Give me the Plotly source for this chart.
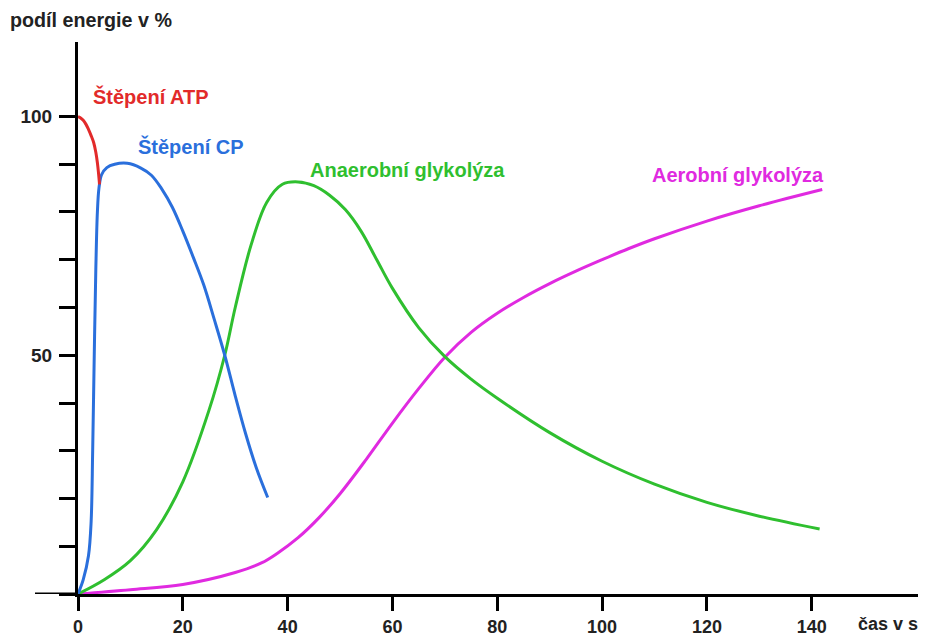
import plotly.graph_objects as go

atp_x = [0, 0.5, 1, 1.5, 2, 2.5, 3, 3.4, 3.7, 3.9, 4.05, 4.1]
atp_y = [100, 99.7, 99.2, 98.4, 97.3, 96, 94.5, 92.5, 90.3, 88.3, 86.5, 85.8]

cp_x = [0, 1, 2, 2.5, 2.8, 3.1, 3.4, 3.7, 4, 4.5, 5.5, 7, 9.4, 12, 14, 16, 18, 20, 22, 24, 26, 28, 30, 32, 34, 36.2]
cp_y = [0, 3, 8, 15, 30, 50, 68, 80, 85, 87.8, 89.3, 90, 90.2, 89.2, 87.7, 84.8, 81, 76, 70.5, 64.7, 57.5, 50, 41.5, 33.5, 26.5, 20.2]

green_x = [0, 5, 10, 15, 20, 25, 28, 30, 33, 36, 39, 42, 45, 48, 51, 54, 57, 60, 65, 70, 75, 80, 90, 100, 110, 120, 130, 141.5]
green_y = [0, 3, 7, 13.5, 23.5, 38.5, 50, 60, 73, 82, 85.8, 86.3, 85.5, 83.5, 80.5, 76, 70, 64, 55.8, 49.7, 45, 41, 33.8, 27.8, 23, 19.2, 16.3, 13.6]

aer_x = [0, 10, 20, 30, 35, 38, 42, 46, 50, 55, 60, 65, 70, 75, 80, 85, 90, 95, 100, 105, 110, 120, 130, 142]
aer_y = [0, 0.9, 2, 4.5, 6.5, 8.5, 11.8, 16, 21, 28.2, 35.8, 43, 49.6, 54.8, 58.8, 62.1, 65, 67.6, 70, 72.3, 74.4, 78.1, 81.3, 84.7]

x_ticks = [0, 20, 40, 60, 80, 100, 120, 140]
y_ticks = [0, 10, 20, 30, 40, 50, 60, 70, 80, 90, 100]
y_labels = ["", "", "", "", "", "50", "", "", "", "", "100"]

RED = "#e22a2a"
BLUE = "#2a6fdc"
GREEN = "#2fbf2f"
MAG = "#e02ae0"
TXT = "#222222"
FONT = "Liberation Sans, Arial, sans-serif"

fig = go.Figure()
for xs, ys, c in [(aer_x, aer_y, MAG), (green_x, green_y, GREEN), (cp_x, cp_y, BLUE), (atp_x, atp_y, RED)]:
    fig.add_trace(go.Scatter(x=xs, y=ys, mode="lines",
                             line=dict(color=c, width=3, shape="spline", smoothing=1),
                             showlegend=False, hoverinfo="skip"))

labels = [
    ("Štěpení ATP", 2.77, 104.2, RED),
    ("Štěpení CP", 11.4, 93.75, BLUE),
    ("Anaerobní glykolýza", 44.2, 88.75, GREEN),
    ("Aerobní glykolýza", 109.5, 87.7, MAG),
]
for t, x, y, c in labels:
    fig.add_annotation(x=x, y=y, text="<b>" + t + "</b>", showarrow=False,
                       xanchor="left", yanchor="middle", xshift=-2,
                       font=dict(family=FONT, size=20, color=c))

fig.add_annotation(xref="paper", yref="paper", x=(2 - 70) / 848, y=(589 - 12) / 555,
                   text="<b>podíl energie v %</b>", showarrow=False, xanchor="left", yanchor="middle",
                   xshift=-2, font=dict(family=FONT, size=19.7, color=TXT))
fig.add_annotation(xref="paper", yref="paper", x=(880 - 70) / 848, y=(589 - 619) / 555,
                   text="<b>čas v s</b>", showarrow=False, xanchor="center", yanchor="middle",
                   font=dict(family=FONT, size=18, color=TXT))

# extension of the x axis line to the left of the y axis
fig.add_shape(type="line", xref="paper", yref="y", x0=(27 - 70) / 848, x1=0, y0=0, y1=0,
              line=dict(color="black", width=3))

fig.update_layout(
    width=918, height=629,
    margin=dict(l=70, r=0, t=34, b=37, pad=0),
    paper_bgcolor="white", plot_bgcolor="white",
    xaxis=dict(range=[0, 161.8], showgrid=False, zeroline=False,
               showline=True, linecolor="black", linewidth=3,
               ticks="outside", ticklen=14, tickwidth=3, tickcolor="black",
               tickvals=x_ticks, ticktext=["<b>%d</b>" % v for v in x_ticks],
               tickfont=dict(family=FONT, size=18, color=TXT)),
    yaxis=dict(range=[0, 115.6], showgrid=False, zeroline=False,
               showline=True, linecolor="black", linewidth=3,
               ticks="outside", ticklen=16, tickwidth=3, tickcolor="black",
               ticklabelstandoff=3,
               tickvals=y_ticks, ticktext=["<b>%s</b>" % s if s else "" for s in y_labels],
               tickfont=dict(family=FONT, size=19, color=TXT)),
)

fig.write_html("out.html")
